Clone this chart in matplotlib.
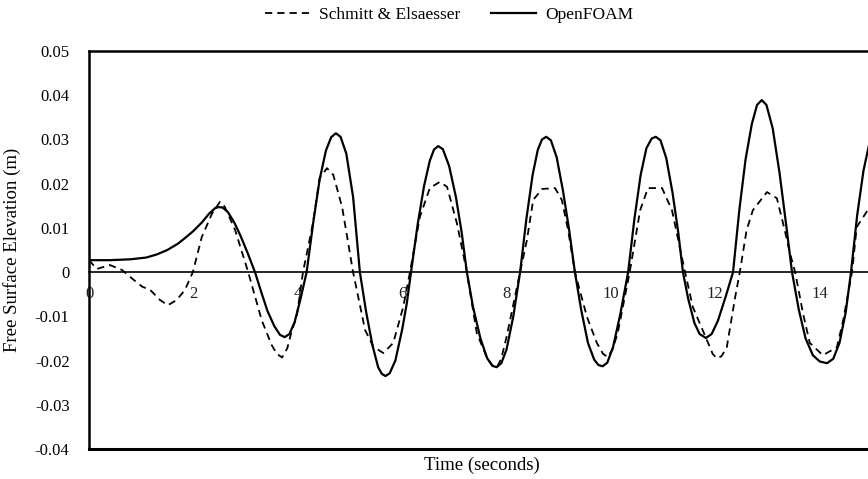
import matplotlib
matplotlib.use("Agg")
import matplotlib.pyplot as plt

# time (s) and free surface elevation (m)
openfoam_t = [0.0, 0.4, 0.8, 1.1, 1.3, 1.5, 1.7, 1.84, 2.0, 2.16, 2.3, 2.42, 2.49, 2.56,
              2.66, 2.78, 2.9, 3.04, 3.18,
              3.3, 3.42, 3.55, 3.66, 3.75, 3.84, 3.94, 4.05, 4.17,
              4.3, 4.42, 4.54, 4.64, 4.73, 4.82, 4.93, 5.06, 5.19,
              5.31, 5.43, 5.54, 5.61, 5.68, 5.76, 5.87, 6.0, 6.09, 6.17,
              6.3, 6.42, 6.53, 6.61, 6.69, 6.78, 6.9, 7.03, 7.14, 7.24,
              7.36, 7.5, 7.63, 7.73, 7.81, 7.9, 8.0, 8.13, 8.26,
              8.38, 8.5, 8.6, 8.68, 8.76, 8.85, 8.96, 9.08, 9.2, 9.31,
              9.43, 9.56, 9.68, 9.76, 9.84, 9.93, 10.04, 10.18, 10.33,
              10.45, 10.57, 10.68, 10.78, 10.86, 10.95, 11.06, 11.18, 11.29, 11.38,
              11.48, 11.6, 11.7, 11.82, 11.93, 12.05, 12.2, 12.34,
              12.46, 12.58, 12.7, 12.8, 12.89, 12.98, 13.1, 13.23, 13.36, 13.47,
              13.6, 13.73, 13.87, 14.0, 14.14, 14.26, 14.38, 14.5, 14.6,
              14.72, 14.84, 14.95, 15.06]
openfoam_eta = [0.0027, 0.0027, 0.0029, 0.0033, 0.0040, 0.0050, 0.0064, 0.0077, 0.0093,
                0.0112, 0.0132, 0.0145, 0.0147, 0.0146, 0.0136, 0.0113, 0.0083, 0.0043, 0.0,
                -0.0045, -0.0088, -0.0122, -0.0142, -0.0147, -0.0140, -0.0113, -0.0062, 0.0,
                0.0115, 0.0210, 0.0275, 0.0305, 0.0314, 0.0306, 0.0268, 0.0170, 0.0,
                -0.0090, -0.0165, -0.0215, -0.0230, -0.0235, -0.0229, -0.0200, -0.0130,
                -0.0070, 0.0,
                0.0110, 0.0195, 0.0252, 0.0277, 0.0285, 0.0278, 0.0240, 0.0170, 0.0090, 0.0,
                -0.0080, -0.0150, -0.0195, -0.0212, -0.0215, -0.0206, -0.0175, -0.0100, 0.0,
                0.0120, 0.0220, 0.0277, 0.0300, 0.0306, 0.0298, 0.0260, 0.0185, 0.0095, 0.0,
                -0.0085, -0.0160, -0.0198, -0.0210, -0.0213, -0.0205, -0.0170, -0.0095, 0.0,
                0.0120, 0.0220, 0.0280, 0.0302, 0.0306, 0.0298, 0.0258, 0.0180, 0.0090, 0.0,
                -0.0060, -0.0115, -0.0140, -0.0149, -0.0140, -0.0110, -0.0055, 0.0,
                0.0140, 0.0255, 0.0335, 0.0378, 0.0389, 0.0378, 0.0325, 0.0225, 0.0105, 0.0,
                -0.0085, -0.0150, -0.0188, -0.0202, -0.0206, -0.0196, -0.0160, -0.0090, 0.0,
                0.0130, 0.0230, 0.0290, 0.0320]

schmitt_t = [0.0, 0.15, 0.4, 0.63, 0.82, 1.02, 1.17, 1.36, 1.51, 1.68, 1.84, 1.99, 2.16,
             2.36, 2.51, 2.6, 2.8, 3.05, 3.31, 3.5, 3.6, 3.7, 3.8, 3.89, 3.98, 4.1, 4.29,
             4.42, 4.56, 4.68, 4.85, 5.06, 5.29, 5.45, 5.64, 5.83, 6.02, 6.15, 6.34, 6.53,
             6.72, 6.86, 7.05, 7.24, 7.43, 7.62, 7.72, 7.81, 7.9, 8.0, 8.26, 8.39, 8.51,
             8.68, 8.93, 9.06, 9.18, 9.31, 9.54, 9.73, 9.85, 9.94, 10.03, 10.13, 10.36,
             10.56, 10.71, 10.98, 11.17, 11.42, 11.57, 11.84, 11.95, 12.03, 12.12, 12.22,
             12.38, 12.47, 12.6, 12.72, 12.99, 13.18, 13.33, 13.43, 13.53, 13.68, 13.81,
             14.06, 14.33, 14.45, 14.62, 14.71, 14.92, 15.06]
schmitt_eta = [0.0027, 0.0007, 0.0016, 0.0005, -0.0014, -0.0033, -0.0040, -0.0063,
               -0.0075, -0.0063, -0.0040, 0.0, 0.0079, 0.0133, 0.0159, 0.0148, 0.0095,
               0.0, -0.0109, -0.0165, -0.0185, -0.0193, -0.0172, -0.0130, -0.0101, 0.0,
               0.0110, 0.0213, 0.0235, 0.0220, 0.0147, 0.0, -0.0131, -0.0169, -0.0183,
               -0.0160, -0.0079, 0.0, 0.0125, 0.0190, 0.0204, 0.0193, 0.0110, 0.0,
               -0.0138, -0.0192, -0.0210, -0.0217, -0.0195, -0.0147, 0.0, 0.0072, 0.0163,
               0.0188, 0.0190, 0.0163, 0.0095, 0.0, -0.0101, -0.0160, -0.0185, -0.0192,
               -0.0175, -0.0138, 0.0, 0.0140, 0.0190, 0.0190, 0.0140, 0.0, -0.0079,
               -0.0154, -0.0185, -0.0195, -0.0190, -0.0170, -0.0057, 0.0, 0.0095, 0.0140,
               0.0181, 0.0167, 0.0095, 0.0043, 0.0, -0.0093, -0.0160, -0.0188, -0.0170,
               -0.0109, 0.0, 0.0102, 0.0140, 0.0160]

x_ticks = [0, 2, 4, 6, 8, 10, 12, 14]
y_ticks = [-0.04, -0.03, -0.02, -0.01, 0, 0.01, 0.02, 0.03, 0.04, 0.05]
y_ticklabels = ["-0.04", "-0.03", "-0.02", "-0.01", "0", "0.01", "0.02", "0.03", "0.04", "0.05"]

plt.rcParams['font.family'] = ['Liberation Serif', 'DejaVu Serif']

fig = plt.figure(figsize=(8.68, 4.79), dpi=100)
# axes runs a bit past the right edge, like the cropped original
ax = fig.add_axes([89 / 868, 30 / 479, 786 / 868, 398 / 479])

ax.plot(schmitt_t, schmitt_eta, color='black', lw=1.3, dashes=(4, 2.8),
        label='Schmitt & Elsaesser')
ax.plot(openfoam_t, openfoam_eta, color='black', lw=1.6, label='OpenFOAM')

ax.set_xlim(0, 15.06)
ax.set_ylim(-0.04, 0.05)

# x axis sits on zero, box line at the bottom
ax.spines['bottom'].set_position(('data', 0))
ax.spines['bottom'].set_linewidth(1.2)
ax.axhline(-0.04, color='black', lw=2.2, clip_on=False)
ax.spines['left'].set_linewidth(1.8)
ax.spines['top'].set_linewidth(1.8)
ax.spines['right'].set_visible(False)

ax.set_xticks(x_ticks)
ax.set_yticks(y_ticks)
ax.set_yticklabels(y_ticklabels)
ax.tick_params(axis='x', length=0, pad=10, labelsize=12, colors='#222222')
ax.tick_params(axis='y', length=0, pad=14, labelsize=12)

ax.set_ylabel('Free Surface Elevation (m)', fontsize=13.5)
ax.yaxis.set_label_coords(-0.086, 0.5)
fig.text(482 / 868, 1 - 465 / 479, 'Time (seconds)', fontsize=13.5, ha='center', va='center')

fig.legend(loc='center', bbox_to_anchor=(449 / 868, 1 - 15 / 479), ncol=2, frameon=False,
           fontsize=12.5, handlelength=2.6, columnspacing=1.8, handletextpad=0.5)

plt.savefig('out.png', dpi=100)
